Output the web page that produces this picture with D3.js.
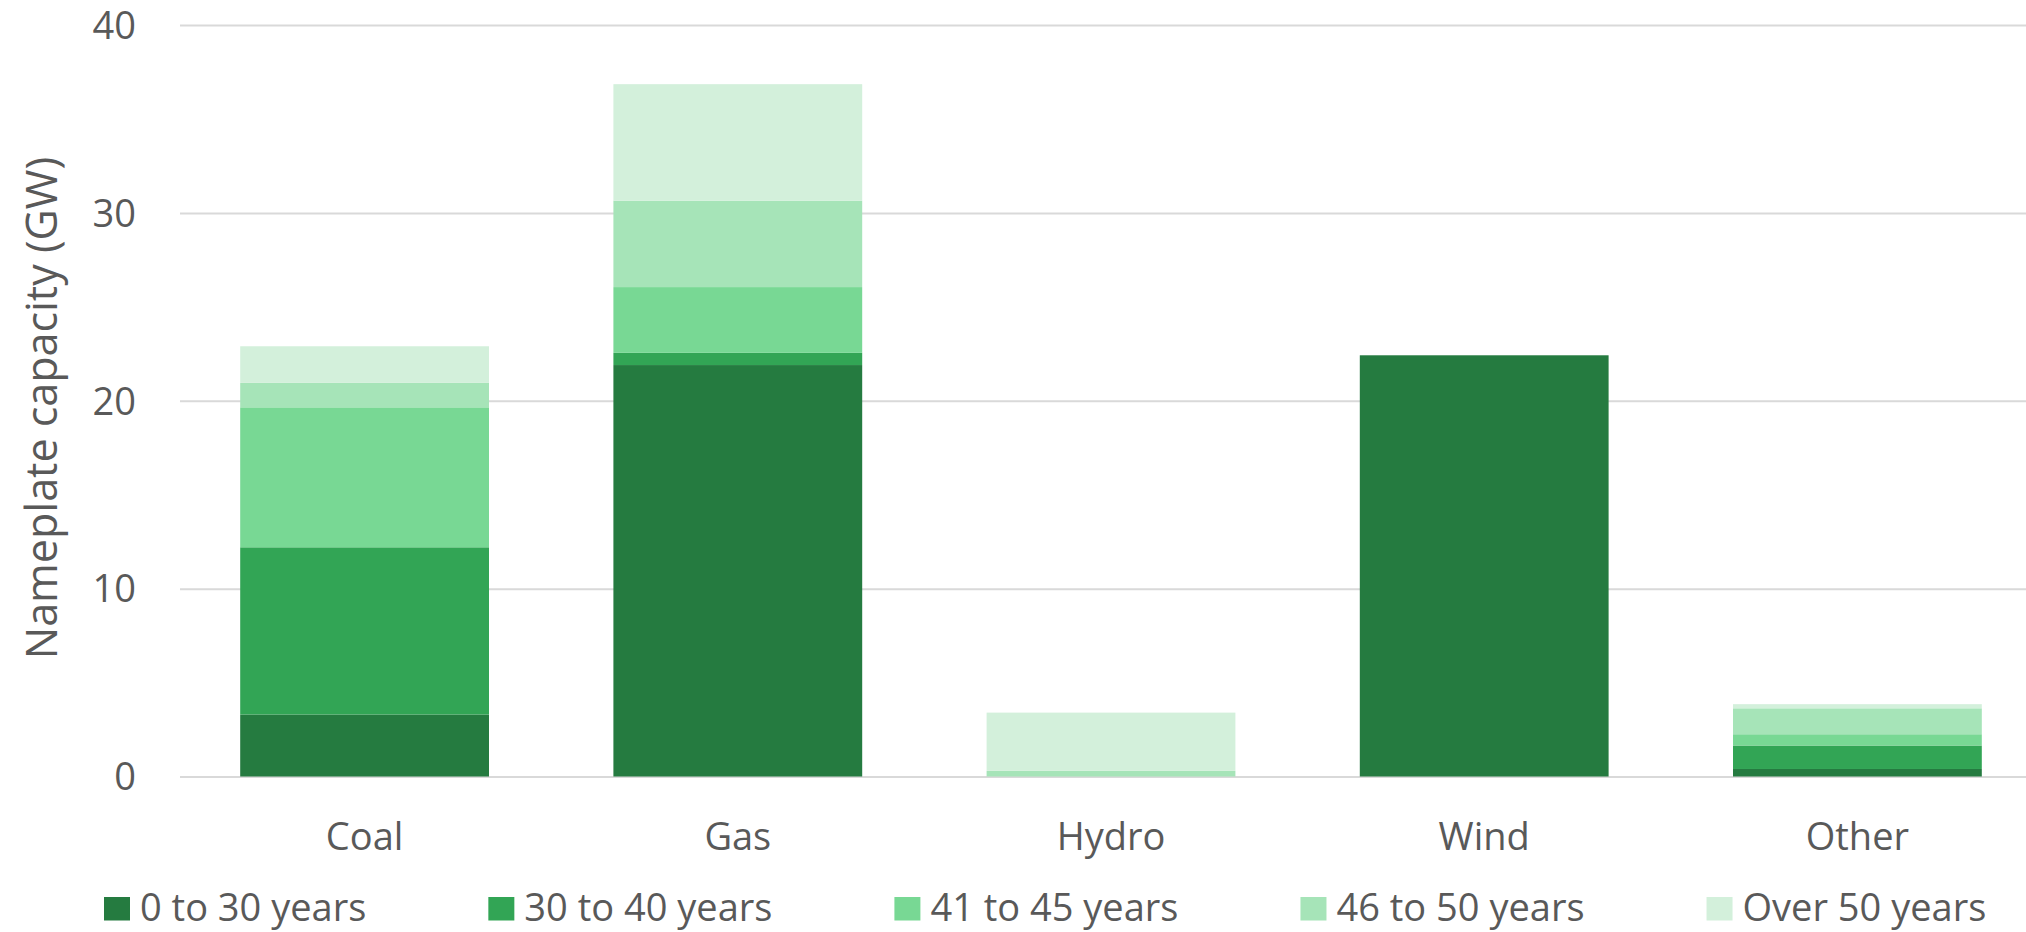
<!DOCTYPE html>
<html>
<head>
<meta charset="utf-8">
<script src="https://cdn.jsdelivr.net/npm/d3@7"></script>
<style>
  html, body { margin: 0; padding: 0; background: #ffffff; }
  svg { display: block; }
  text { font-family: "Open Sans", "Noto Sans", sans-serif; fill: #595959; }
</style>
</head>
<body>
<svg id="chart" width="2026" height="932"></svg>
<script>
// Generation technology groups along the x axis
const categories = ["Coal", "Gas", "Hydro", "Wind", "Other"];

// Age groups (stacked bottom to top) and their colours
const ageGroups = ["0 to 30 years", "30 to 40 years", "41 to 45 years", "46 to 50 years", "Over 50 years"];
const ageColors = ["#257b40", "#32a555", "#78d894", "#a6e4b8", "#d3f0db"];

// Nameplate capacity (GW) per age group, one value per category
const age0to30   = [3.3,  21.9,  0.0, 22.42, 0.40];
const age30to40  = [8.9,  0.65,  0.0, 0.0,   1.25];
const age41to45  = [7.45, 3.5,   0.0, 0.0,   0.60];
const age46to50  = [1.3,  4.6,   0.3, 0.0,   1.38];
const ageOver50  = [1.95, 6.2,   3.1, 0.0,   0.22];

const yTicks = [0, 10, 20, 30, 40];
const yTitle = "Nameplate capacity (GW)";

const seriesValues = [age0to30, age30to40, age41to45, age46to50, ageOver50];

// Table for d3.stack: one row per category
const rows = categories.map((c, i) => {
  const r = { category: c };
  ageGroups.forEach((g, k) => { r[g] = seriesValues[k][i]; });
  return r;
});

const svg = d3.select("#chart");

const plot = { left: 178, right: 2044, top: 25, bottom: 776.5 };

const x = d3.scaleBand()
  .domain(categories)
  .range([plot.left, plot.right])
  .paddingInner(1 / 3)
  .paddingOuter(1 / 6);

const y = d3.scaleLinear()
  .domain([0, 40])
  .range([plot.bottom, plot.top]);

// Horizontal gridlines
svg.append("g")
  .selectAll("line")
  .data(yTicks)
  .join("line")
  .attr("x1", plot.left + 2)
  .attr("x2", plot.right)
  .attr("y1", d => y(d) + 0.5)
  .attr("y2", d => y(d) + 0.5)
  .attr("stroke", "#d9d9d9")
  .attr("stroke-width", 2);

// Y axis tick labels
const yAxis = d3.axisLeft(y).tickValues(yTicks).tickSize(0).tickPadding(0).tickFormat(d3.format("d"));
const yAxisG = svg.append("g")
  .attr("transform", "translate(136,0)")
  .call(yAxis);
yAxisG.select(".domain").remove();
yAxisG.selectAll("text")
  .attr("font-size", 38)
  .attr("font-family", "'Open Sans', 'Noto Sans', sans-serif")
  .attr("fill", "#595959")
  .attr("dy", "0.35em");

// Y axis title
svg.append("text")
  .attr("transform", `translate(57,${408}) rotate(-90)`)
  .attr("text-anchor", "middle")
  .attr("font-size", 43)
  .text(yTitle);

// Stacked bars
const stack = d3.stack().keys(ageGroups);
const stacked = stack(rows);

svg.append("g")
  .selectAll("g")
  .data(stacked)
  .join("g")
  .attr("fill", (d, i) => ageColors[i])
  .selectAll("rect")
  .data(d => d.filter(s => s[1] - s[0] > 0))
  .join("rect")
  .attr("x", d => x(d.data.category))
  .attr("width", x.bandwidth())
  .attr("y", d => y(d[1]))
  .attr("height", d => y(d[0]) - y(d[1]));

// Category labels
const xAxis = d3.axisBottom(x).tickSize(0).tickPadding(0);
const xAxisG = svg.append("g")
  .attr("transform", "translate(0,850)")
  .call(xAxis);
xAxisG.select(".domain").remove();
xAxisG.selectAll("text")
  .attr("font-size", 38)
  .attr("font-family", "'Open Sans', 'Noto Sans', sans-serif")
  .attr("fill", "#595959")
  .attr("dy", 0);

// Legend
const legend = svg.append("g").attr("class", "legend");
let lx = 104;
ageGroups.forEach((g, i) => {
  const item = legend.append("g").attr("transform", `translate(${lx},0)`);
  item.append("rect")
    .attr("x", 0)
    .attr("y", 897)
    .attr("width", 26)
    .attr("height", 23.5)
    .attr("fill", ageColors[i]);
  const t = item.append("text")
    .attr("x", 36)
    .attr("y", 921)
    .attr("font-size", 38)
    .text(g);
  lx += 36 + t.node().getComputedTextLength() + 122;
});
</script>
</body>
</html>
